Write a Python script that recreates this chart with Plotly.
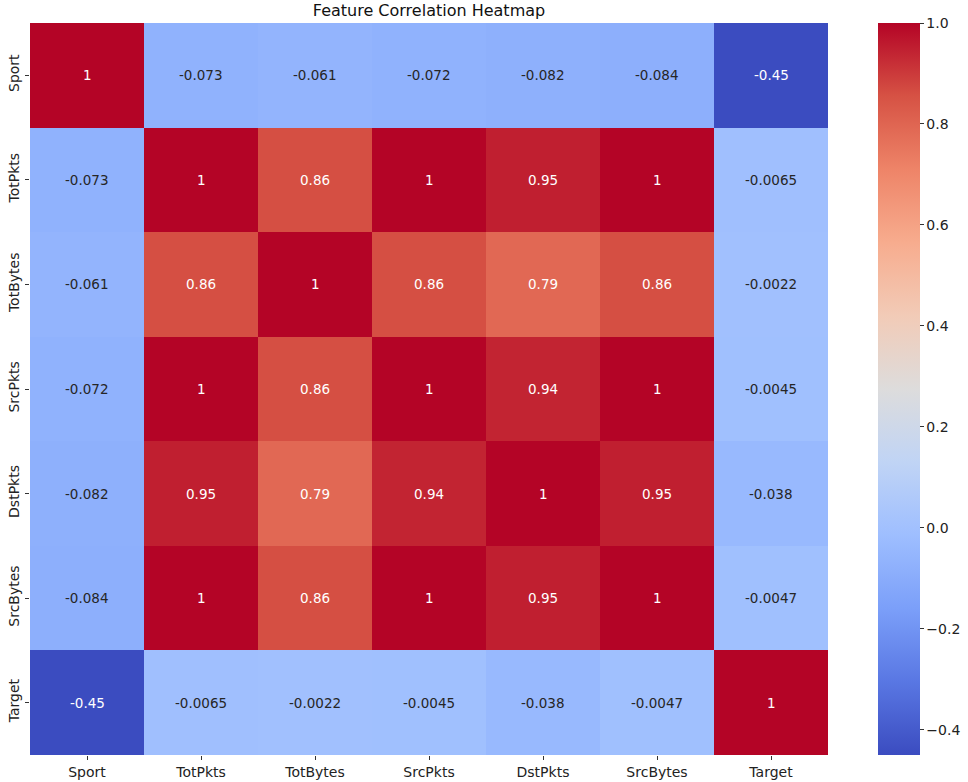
import plotly.graph_objects as go

features = ["Sport", "TotPkts", "TotBytes", "SrcPkts", "DstPkts", "SrcBytes", "Target"]
corr = [
    [1, -0.073, -0.061, -0.072, -0.082, -0.084, -0.45],
    [-0.073, 1, 0.86, 1, 0.95, 1, -0.0065],
    [-0.061, 0.86, 1, 0.86, 0.79, 0.86, -0.0022],
    [-0.072, 1, 0.86, 1, 0.94, 1, -0.0045],
    [-0.082, 0.95, 0.79, 0.94, 1, 0.95, -0.038],
    [-0.084, 1, 0.86, 1, 0.95, 1, -0.0047],
    [-0.45, -0.0065, -0.0022, -0.0045, -0.038, -0.0047, 1],
]
cbar_ticks = [-0.4, -0.2, 0.0, 0.2, 0.4, 0.6, 0.8, 1.0]
cbar_labels = ["\u22120.4", "\u22120.2", "0.0", "0.2", "0.4", "0.6", "0.8", "1.0"]

coolwarm = ['#3b4cc0', '#5977e3', '#7b9ff9', '#9ebeff', '#c0d4f5', '#dddcdc',
            '#f2cbb7', '#f7ac8e', '#ee8468', '#d65244', '#b40426']
colorscale = [[i / (len(coolwarm) - 1), c] for i, c in enumerate(coolwarm)]

zmin = min(min(r) for r in corr)
zmax = max(max(r) for r in corr)


def hex2rgb(h):
    h = h.lstrip('#')
    return [int(h[i:i + 2], 16) / 255 for i in (0, 2, 4)]


def color_at(v):
    t = (v - zmin) / (zmax - zmin)
    t = min(max(t, 0), 1)
    n = len(coolwarm) - 1
    i = min(int(t * n), n - 1)
    f = t * n - i
    a, b = hex2rgb(coolwarm[i]), hex2rgb(coolwarm[i + 1])
    return [a[k] + (b[k] - a[k]) * f for k in range(3)]


def lum(rgb):
    def lin(c):
        return c / 12.92 if c <= 0.03928 else ((c + 0.055) / 1.055) ** 2.4
    r, g, b = [lin(c) for c in rgb]
    return 0.2126 * r + 0.7152 * g + 0.0722 * b


def fmt(v):
    return "%g" % v

fig = go.Figure()
fig.add_trace(go.Heatmap(
    z=corr, x=features, y=features,
    colorscale=colorscale, zmin=zmin, zmax=zmax,
    showscale=True,
    colorbar=dict(
        x=1.0627, xanchor="left", xref="paper", xpad=0, ypad=0,
        y=0.5, yanchor="middle",
        thickness=42, thicknessmode="pixels",
        len=1.0, lenmode="fraction",
        outlinewidth=0,
        tickvals=cbar_ticks, ticktext=cbar_labels,
        ticks="outside", ticklen=4, tickwidth=1, tickcolor="#333",
        tickfont=dict(family="DejaVu Sans", size=14, color="#222"),
    ),
    hoverinfo="skip",
))

annotations = []
for i, row in enumerate(corr):
    for j, v in enumerate(row):
        col = "white" if lum(color_at(v)) < 0.408 else "#262626"
        annotations.append(dict(
            x=features[j], y=features[i], text=fmt(v), showarrow=False,
            font=dict(family="DejaVu Sans", size=13.5, color=col),
        ))

fig.update_layout(
    width=968, height=782,
    margin=dict(l=30, r=140, t=23, b=27, autoexpand=False),
    paper_bgcolor="white", plot_bgcolor="white",
    title=dict(text="Feature Correlation Heatmap", x=0.5, xref="paper",
               y=0.987, yref="container", yanchor="middle",
               font=dict(family="DejaVu Sans", size=16, color="#111")),
    annotations=annotations,
    xaxis=dict(showgrid=False, zeroline=False, ticks="outside", ticklen=4, automargin=False,
               tickcolor="#333", tickfont=dict(family="DejaVu Sans", size=14, color="#222"),
               showline=False),
    yaxis=dict(showgrid=False, zeroline=False, autorange="reversed", ticks="outside",
               ticklen=4, tickcolor="#333", tickangle=-90, automargin=False,
               tickfont=dict(family="DejaVu Sans", size=14, color="#222"),
               showline=False),
)

fig.write_html("out.html", config={"displayModeBar": False},
               post_script="document.body.style.margin='0';")
